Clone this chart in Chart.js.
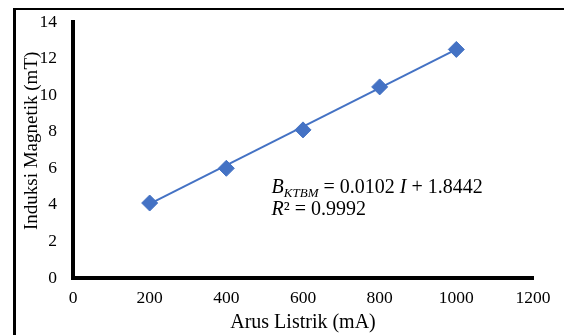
<!DOCTYPE html>
<html>
<head>
<meta charset="utf-8">
<script src="https://cdn.jsdelivr.net/npm/chart.js@4.4.0/dist/chart.umd.min.js"></script>
<style>
  html, body { margin: 0; padding: 0; background: #fff; }
  #wrap { position: relative; width: 564px; height: 335px; }
</style>
</head>
<body>
<div id="wrap"><canvas id="myChart" width="564" height="335"></canvas></div>
<script>
// data
var arus = [200, 400, 600, 800, 1000];
var induksi = [4.1, 6.0, 8.1, 10.45, 12.5];
// trendline end points
var trendX = [200, 1000];
var trendY = [4.05, 12.5];
var xTicks = [0, 200, 400, 600, 800, 1000, 1200];
var yTicks = [0, 2, 4, 6, 8, 10, 12, 14];
var yTitle = 'Induksi Magnetik (mT)';

var blue = '#4472C4';
var serif = "'Liberation Serif', 'Times New Roman', serif";

function toPoints(xs, ys){
  var pts = [];
  for(var i=0; i<xs.length; i++){
    pts.push({x: xs[i], y: ys[i]});
  }
  return pts;
}

//cadre noir gauche + haut, titre Y et l'equation
var extras = {
  id: 'extras',
  beforeDraw: function(chart){
    var ctx = chart.ctx;
    ctx.save();
    ctx.fillStyle = '#fff';
    ctx.fillRect(0, 0, chart.width, chart.height);
    ctx.fillStyle = '#000';
    ctx.fillRect(13, 8, 3, chart.height - 8);
    ctx.fillRect(13, 8, chart.width - 13, 2);
    ctx.restore();
  },
  afterDraw: function(chart){
    var ctx = chart.ctx;
    var xs = chart.scales.x, ys = chart.scales.y;

    //titre de l'axe Y (un peu au-dessus du centre, comme l'original)
    ctx.save();
    ctx.translate(32, ys.getPixelForValue(7.5));
    ctx.rotate(-Math.PI / 2);
    ctx.fillStyle = '#000';
    ctx.textAlign = 'center';
    ctx.textBaseline = 'middle';
    ctx.font = '19px ' + serif;
    ctx.fillText(yTitle, 0, 0);
    ctx.restore();

    var x0 = xs.getPixelForValue(518);
    var y0 = ys.getPixelForValue(4.66);
    ctx.save();
    ctx.fillStyle = '#000';
    ctx.textBaseline = 'alphabetic';
    ctx.textAlign = 'left';
    ctx.font = 'italic 20px ' + serif;
    ctx.fillText('B', x0, y0);
    var x = x0 + ctx.measureText('B').width;
    ctx.font = 'italic 13px ' + serif;
    ctx.fillText('KTBM', x, y0 + 4);
    x += ctx.measureText('KTBM').width;
    ctx.font = '20px ' + serif;
    var s1 = ' = 0.0102 ';
    ctx.fillText(s1, x, y0);
    x += ctx.measureText(s1).width;
    ctx.font = 'italic 20px ' + serif;
    ctx.fillText('I', x, y0);
    x += ctx.measureText('I').width;
    ctx.font = '20px ' + serif;
    ctx.fillText(' + 1.8442', x, y0);

    var y1 = y0 + 22;
    ctx.font = 'italic 20px ' + serif;
    ctx.fillText('R', x0, y1);
    x = x0 + ctx.measureText('R').width;
    ctx.font = '20px ' + serif;
    ctx.fillText('\u00B2 = 0.9992', x, y1);
    ctx.restore();
  }
};

var config = {
  type: 'scatter',
  data: {
    datasets: [
      {
        label: 'trend',
        data: toPoints(trendX, trendY),
        showLine: true,
        borderColor: blue,
        borderWidth: 2,
        pointRadius: 0,
        order: 2
      },
      {
        label: 'data',
        data: toPoints(arus, induksi),
        pointStyle: 'rectRot',
        pointRadius: 8,
        backgroundColor: blue,
        borderColor: blue,
        borderWidth: 1,
        order: 1
      }
    ]
  },
  options: {
    responsive: false,
    animation: false,
    devicePixelRatio: 1,
    layout: { padding: { left: 0, right: 31, top: 22, bottom: 0 } },
    plugins: {
      legend: { display: false },
      tooltip: { enabled: false }
    },
    scales: {
      x: {
        type: 'linear',
        min: 0, max: 1200,
        afterBuildTicks: function(s){ s.ticks = xTicks.map(function(v){ return {value: v}; }); },
        grid: { display: false, drawTicks: false },
        border: { display: true, color: '#000', width: 4 },
        ticks: {
          color: '#000', padding: 10, maxRotation: 0,
          font: { family: serif, size: 17.5 },
          callback: function(v){ return String(v); }
        },
        title: { display: true, text: 'Arus Listrik (mA)', color: '#000', padding: { top: 0, bottom: 0 }, font: { family: serif, size: 20 } },
        afterFit: function(s){ s.height = 57; }
      },
      y: {
        type: 'linear',
        min: 0, max: 14,
        afterBuildTicks: function(s){ s.ticks = yTicks.map(function(v){ return {value: v}; }); },
        //tick marks invisibles, juste pour l'espace avant les labels
        grid: { display: true, drawOnChartArea: false, drawTicks: true, tickLength: 14, color: 'rgba(0,0,0,0)' },
        border: { display: true, color: '#000', width: 4 },
        ticks: {
          color: '#000', padding: 2,
          font: { family: serif, size: 17.5 },
          callback: function(v){ return String(v); }
        },
        afterFit: function(s){ s.width = 73; }
      }
    }
  },
  plugins: [extras]
};

new Chart(document.getElementById('myChart'), config);
</script>
</body>
</html>
